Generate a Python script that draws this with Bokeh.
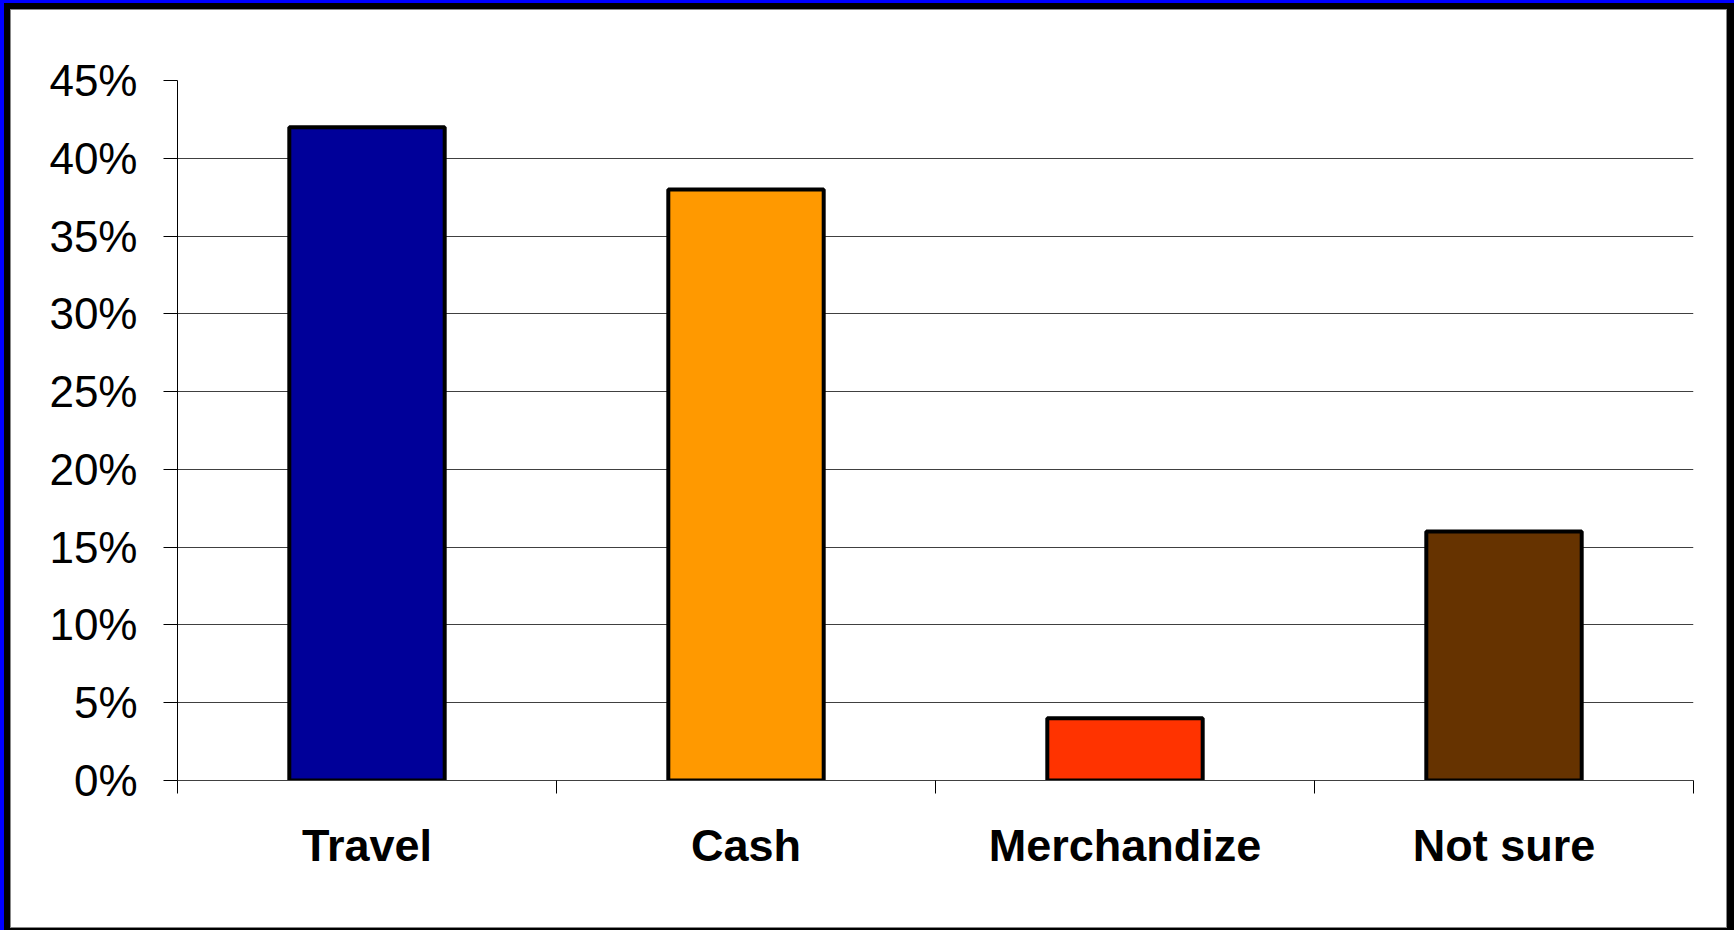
from bokeh.plotting import figure
from bokeh.models import Range1d, FixedTicker, NumeralTickFormatter
from bokeh.embed import file_html
from bokeh.resources import INLINE

categories = ["Travel", "Cash", "Merchandize", "Not sure"]
values = [0.42, 0.38, 0.04, 0.16]
colors = ["#000099", "#FF9900", "#FF3300", "#663300"]
y_ticks = [0, 0.05, 0.10, 0.15, 0.20, 0.25, 0.30, 0.35, 0.40, 0.45]

n = len(categories)
centers = [i + 0.5 for i in range(n)]
bounds = [float(i) for i in range(n + 1)]

FONT = "Liberation Sans"

p = figure(frame_width=1516, frame_height=700,
           min_border_left=177, min_border_right=41, min_border_top=80, min_border_bottom=150,
           x_range=Range1d(0, n), y_range=Range1d(0, 0.45),
           output_backend="svg", toolbar_location=None)
p.background_fill_color = "white"
p.border_fill_color = None
p.outline_line_color = None

p.vbar(x=centers, top=values, width=0.41, bottom=0, fill_color=colors,
       line_color="black", line_width=4)

# grids
p.xgrid.grid_line_color = None
p.ygrid.ticker = FixedTicker(ticks=y_ticks)
p.ygrid.grid_line_color = "#404040"
p.ygrid.grid_line_width = 1

# y axis
ya = p.yaxis[0]
ya.ticker = FixedTicker(ticks=y_ticks)
ya.formatter = NumeralTickFormatter(format="0%")
ya.major_tick_in = 0
ya.major_tick_out = 14
ya.minor_tick_out = 0
ya.minor_tick_in = 0
ya.major_label_standoff = 26
ya.major_label_text_font = FONT
ya.major_label_text_font_size = "44px"
ya.major_label_text_color = "black"
ya.axis_line_color = "black"
ya.major_tick_line_color = "black"

# x axis
xa = p.xaxis[0]
xa.ticker = FixedTicker(ticks=centers, minor_ticks=bounds)
xa.major_label_overrides = {c: lab for c, lab in zip(centers, categories)}
xa.major_tick_in = 0
xa.major_tick_out = 0
xa.minor_tick_in = 0
xa.minor_tick_out = 13
xa.minor_tick_line_color = "black"
xa.major_label_standoff = 26
xa.major_label_text_font = FONT
xa.major_label_text_font_size = "45px"
xa.major_label_text_font_style = "bold"
xa.major_label_text_color = "black"
xa.axis_line_color = "#404040"

# page border drawn behind the transparent canvas border area
p.styles = {
    "background-color": "white",
    "box-shadow": ("inset 4px 3px 0 0 blue, "
                   "inset 10px 9px 0 0 black, "
                   "inset -7px -2px 0 0 black, "
                   "inset 11px 10px 0 0 #888888, "
                   "inset -8px -3px 0 0 #888888"),
}

open("out.html", "w").write(file_html(p, INLINE))
